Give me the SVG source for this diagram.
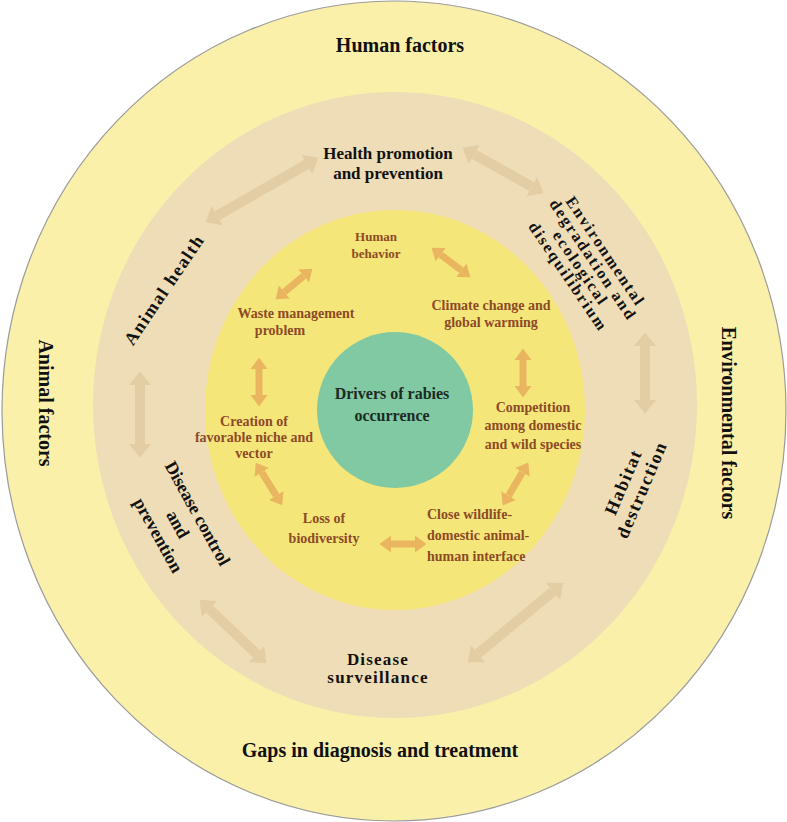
<svg xmlns="http://www.w3.org/2000/svg" width="787" height="822" viewBox="0 0 787 822">
<style>
text{font-family:"Liberation Serif","Times New Roman",serif;font-weight:bold}
.outer{font-size:20px;fill:#111}
.mid{font-size:17px;fill:#111}
.midr{font-size:16px;fill:#111;letter-spacing:2px}
.midh{font-size:18px;fill:#111;letter-spacing:1.5px}
.inner{font-size:14px;fill:#8C4A26}
.core{font-size:16px;fill:#1c2a24}
.c{text-anchor:middle}
.oa{stroke:#E9B65F;stroke-width:7;fill:none;marker-start:url(#ho);marker-end:url(#ho)}
.ta{stroke:#E2CDA4;stroke-width:10;fill:none;marker-start:url(#ht);marker-end:url(#ht)}
</style>
<defs>
<marker id="ho" markerUnits="userSpaceOnUse" markerWidth="14" markerHeight="20" refX="0" refY="9" orient="auto-start-reverse" viewBox="0 0 14 20"><path d="M0,0.5 L11.5,9 L0,17.5 Z" fill="#E9B65F"/></marker>
<marker id="ht" markerUnits="userSpaceOnUse" markerWidth="16" markerHeight="26" refX="0" refY="12" orient="auto-start-reverse" viewBox="0 0 16 26"><path d="M0,1 L13.5,12 L0,23 Z" fill="#E2CDA4"/></marker>
</defs>

<g id="ring-outer">
<ellipse cx="394" cy="411" rx="392" ry="410" fill="#FAF0AA" stroke="#9a9a9a" stroke-width="1.2"/>
</g>
<g id="ring-middle">
<ellipse cx="395" cy="405" rx="302" ry="313" fill="#EEDDB6"/>
</g>
<g id="ring-inner">
<ellipse cx="395" cy="410" rx="190" ry="200" fill="#F5E67A"/>
</g>
<g id="core">
<circle cx="395" cy="410" r="78" fill="#80C9A2"/>
<text class="core c" x="392" y="399">Drivers of rabies</text>
<text class="core c" x="392" y="421">occurrence</text>
</g>

<g id="connectors">
<line class="oa" x1="284.4" y1="292" x2="303.6" y2="276"/>
<line class="oa" x1="440.7" y1="254.7" x2="461.3" y2="270.3"/>
<line class="oa" x1="523" y1="360" x2="523" y2="386"/>
<line class="oa" x1="522.4" y1="472.4" x2="508.6" y2="495.6"/>
<line class="oa" x1="391" y1="544" x2="415" y2="544"/>
<line class="oa" x1="261.8" y1="472.4" x2="276.2" y2="495.6"/>
<line class="oa" x1="259" y1="369" x2="259" y2="395"/>
<line class="ta" x1="306.7" y1="164.4" x2="217.3" y2="215.6"/>
<line class="ta" x1="474.3" y1="154.4" x2="531.7" y2="186.6"/>
<line class="ta" x1="645" y1="346" x2="645" y2="400"/>
<line class="ta" x1="553" y1="591.3" x2="478" y2="653.7"/>
<line class="ta" x1="209.4" y1="609" x2="256.6" y2="654"/>
<line class="ta" x1="140" y1="385" x2="140" y2="444"/>
</g>

<g id="human-factors"><text class="outer c" x="400" y="52">Human factors</text></g>
<g id="gaps"><text class="outer c" x="380" y="757">Gaps in diagnosis and treatment</text></g>
<g id="animal-factors"><text class="outer c" transform="translate(39,403) rotate(90)">Animal factors</text></g>
<g id="environmental-factors"><text class="outer c" transform="translate(722,423) rotate(90)">Environmental factors</text></g>

<g id="health-promotion">
<text class="mid c" x="388" y="159">Health promotion</text>
<text class="mid c" x="388" y="179">and prevention</text>
</g>
<g id="environmental-degradation" transform="translate(587,264) rotate(56)">
<text class="midr c" x="0" y="-17">Environmental</text>
<text class="midr c" x="0" y="-2">degradation and</text>
<text class="midr c" x="0" y="13">ecological</text>
<text class="midr c" x="0" y="28">disequilibrium</text>
</g>
<g id="habitat-destruction" transform="translate(633,486) rotate(-67)">
<text class="midh c" x="0" y="-4.5">Habitat</text>
<text class="midh c" x="0" y="15.5">destruction</text>
</g>
<g id="disease-surveillance">
<text class="mid c" x="378" y="665" style="letter-spacing:1.2px">Disease</text>
<text class="mid c" x="378" y="683" style="letter-spacing:1.2px">surveillance</text>
</g>
<g id="disease-control" transform="translate(177.5,524.5) rotate(61)">
<text class="midh c" x="0" y="-17" style="letter-spacing:0">Disease control</text>
<text class="midh c" x="0" y="5.5" style="letter-spacing:0">and</text>
<text class="midh c" x="0" y="28" style="letter-spacing:0">prevention</text>
</g>
<g id="animal-health">
<text class="midh c" transform="translate(169,293) rotate(-56)">Animal health</text>
</g>

<g id="human-behavior">
<text class="inner c" x="376" y="241" style="font-size:13px">Human</text>
<text class="inner c" x="376" y="258" style="font-size:13px">behavior</text>
</g>
<g id="climate-change">
<text class="inner c" x="491" y="310">Climate change and</text>
<text class="inner c" x="491" y="327">global warming</text>
</g>
<g id="competition">
<text class="inner c" x="533" y="412">Competition</text>
<text class="inner c" x="533" y="430">among domestic</text>
<text class="inner c" x="533" y="449">and wild species</text>
</g>
<g id="close-interface">
<text class="inner" x="427" y="519">Close wildlife-</text>
<text class="inner" x="427" y="540">domestic animal-</text>
<text class="inner" x="427" y="561">human interface</text>
</g>
<g id="loss-biodiversity">
<text class="inner c" x="324" y="523">Loss of</text>
<text class="inner c" x="324" y="543">biodiversity</text>
</g>
<g id="creation-niche">
<text class="inner c" x="254" y="426">Creation of</text>
<text class="inner c" x="254" y="442">favorable niche and</text>
<text class="inner c" x="254" y="458">vector</text>
</g>
<g id="waste-management">
<text class="inner c" x="296" y="318">Waste management</text>
<text class="inner c" x="280" y="335">problem</text>
</g>
</svg>
